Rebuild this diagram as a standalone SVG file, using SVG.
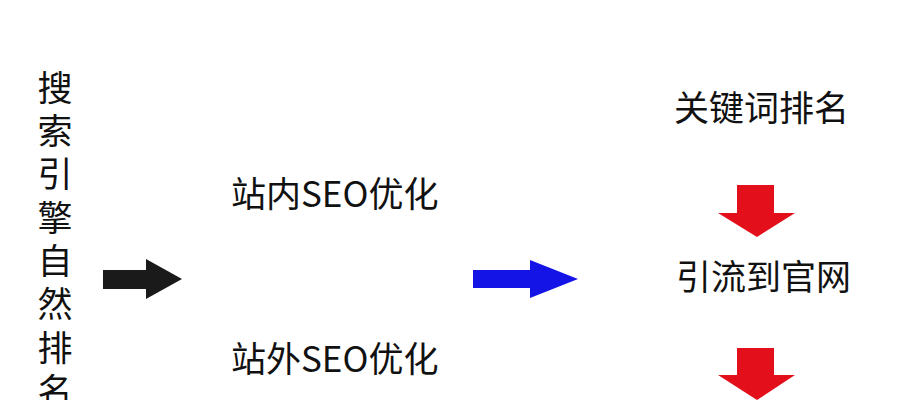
<svg xmlns="http://www.w3.org/2000/svg" width="921" height="400" viewBox="0 0 921 400">
<style>
.t{font-family:"Noto Sans CJK SC","Noto Sans",sans-serif;font-size:35px;fill:#111;}
</style>
<rect width="921" height="400" fill="#fff"/>
<g id="title">
<text class="t" x="55" y="70" writing-mode="vertical-rl" letter-spacing="8.3">搜索引擎自然排名</text>
</g>
<g id="onsite"><text class="t" x="231" y="207">站内SEO优化</text></g>
<g id="offsite"><text class="t" x="231" y="372">站外SEO优化</text></g>
<g id="keyword"><text class="t" x="674" y="121">关键词排名</text></g>
<g id="traffic"><text class="t" x="676" y="290">引流到官网</text></g>
<g id="connectors">
<polygon fill="#1a1a1a" points="103,270 146,270 146,259 182,279 146,299 146,289 103,289"/>
<polygon fill="#1414e6" points="473,270 530,270 530,260 578,279 530,298 530,288 473,288"/>
<polygon fill="#e3101c" points="737,185 774,185 774,213 795,213 757,237 718,213 737,213"/>
<polygon fill="#e3101c" points="737,348 774,348 774,375 795,375 757,400 718,375 737,375"/>
</g>
</svg>
